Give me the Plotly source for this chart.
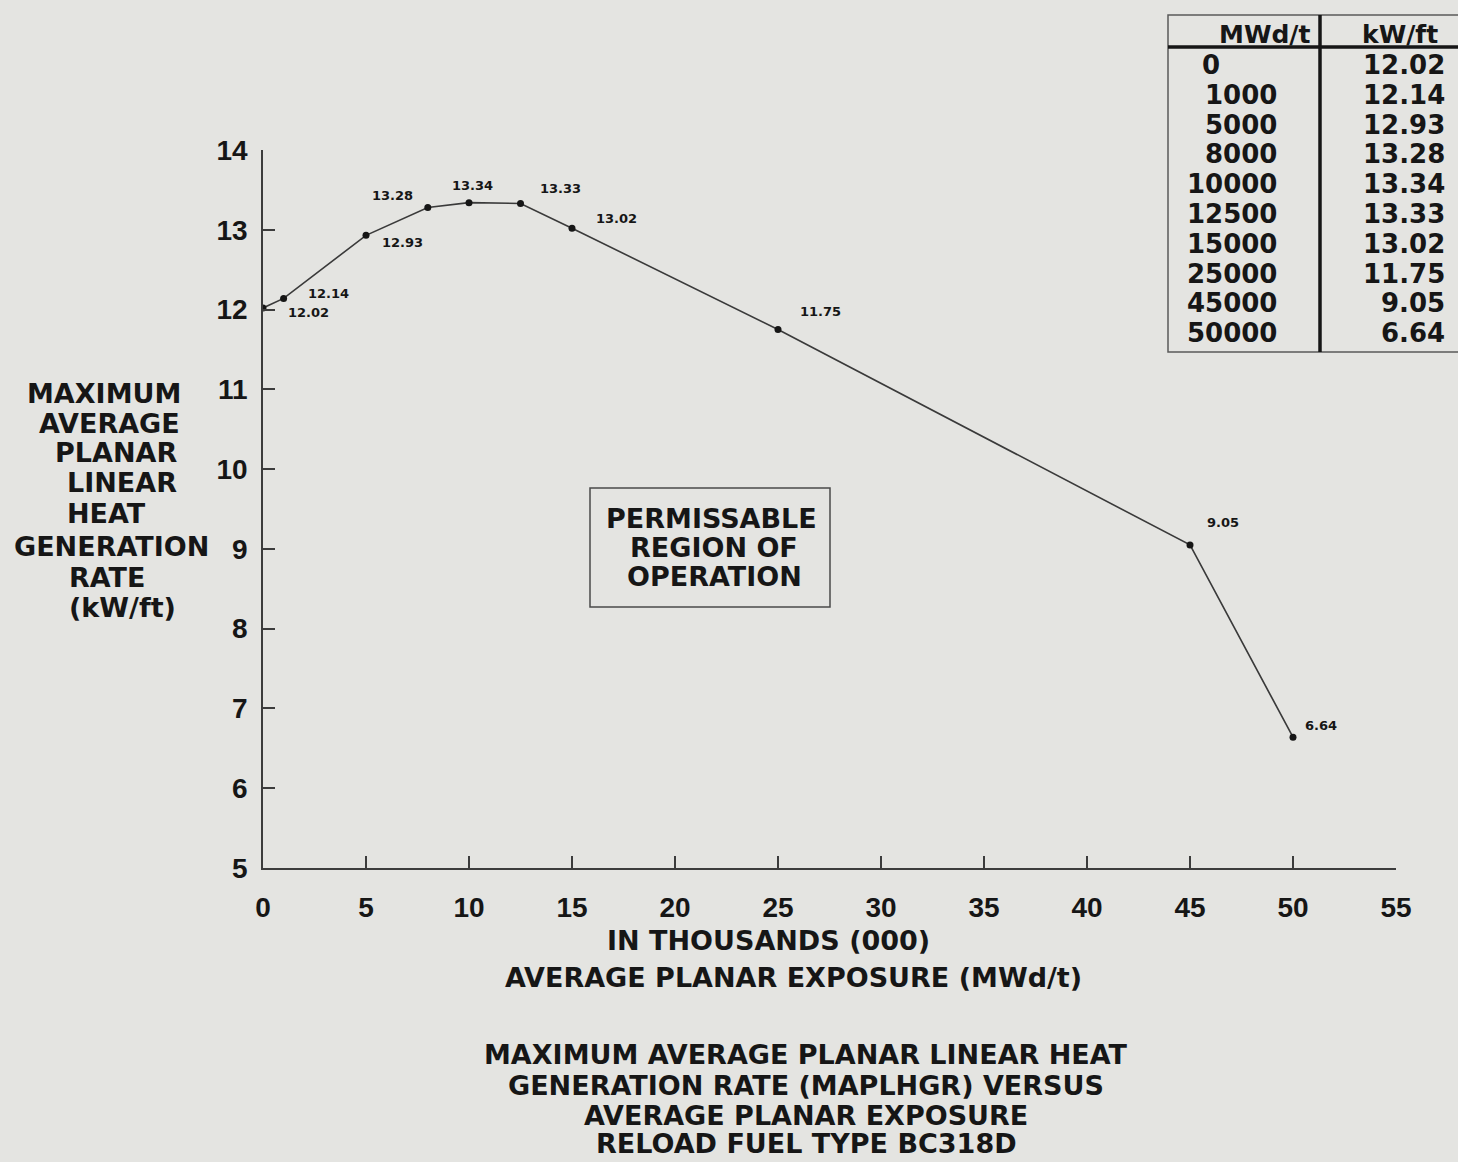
import plotly.graph_objects as go

# ---------------- data ----------------
exposure_mwdt = [0, 1000, 5000, 8000, 10000, 12500, 15000, 25000, 45000, 50000]
kw_per_ft = [12.02, 12.14, 12.93, 13.28, 13.34, 13.33, 13.02, 11.75, 9.05, 6.64]
x_ticks = [0, 5, 10, 15, 20, 25, 30, 35, 40, 45, 50, 55]
y_ticks = [5, 6, 7, 8, 9, 10, 11, 12, 13, 14]
table_headers = ["MWd/t", "kW/ft"]
y_title_lines = ["MAXIMUM", "AVERAGE", "PLANAR", "LINEAR", "HEAT", "GENERATION", "RATE", "(kW/ft)"]
region_lines = ["PERMISSABLE", "REGION OF", "OPERATION"]
x_title_lines = ["IN THOUSANDS (000)", "AVERAGE PLANAR EXPOSURE (MWd/t)"]
caption_lines = ["MAXIMUM AVERAGE PLANAR LINEAR HEAT",
                 "GENERATION RATE (MAPLHGR) VERSUS",
                 "AVERAGE PLANAR EXPOSURE",
                 "RELOAD FUEL TYPE BC318D"]

exposure_k = [v / 1000 for v in exposure_mwdt]

# ---------------- layout helpers ----------------
W, H = 1458, 1162
L, R, T, B = 263, 1396, 150, 868  # plot area in pixels
BG = "#e4e4e1"
INK = "#161616"
FONT = "DejaVu Sans"


def px(x):
    return (x - L) / (R - L)


def py(y):
    return (B - y) / (B - T)


fig = go.Figure()
fig.add_trace(go.Scatter(
    x=exposure_k, y=kw_per_ft, mode="lines+markers",
    line=dict(color="#3a3a3a", width=1.6),
    marker=dict(symbol="circle", size=7, color=INK),
    hoverinfo="x+y", showlegend=False,
))

annotations = []

# point labels (pixel offsets)
label_offsets = [(45, 5), (45, -5), (36, 7), (-35, -12), (3, -17),
                 (40, -15), (44, -10), (42, -18), (33, -22), (28, -12)]
for xv, yv, (dx, dy) in zip(exposure_k, kw_per_ft, label_offsets):
    annotations.append(dict(
        x=xv, y=yv, xref="x", yref="y", text=f"{yv:.2f}", showarrow=False,
        xshift=dx, yshift=-dy, font=dict(family=FONT, size=13, color=INK, weight="bold"),
    ))

# y title lines
y_title_pos = [(104, 393), (109, 423), (116, 453), (122, 482), (106, 513),
               (111, 546), (107, 577), (122, 607)]
for txt, (cx, cy) in zip(y_title_lines, y_title_pos):
    annotations.append(dict(
        x=px(cx), y=py(cy), xref="paper", yref="paper", text=txt, showarrow=False,
        xanchor="center", yanchor="middle",
        font=dict(family=FONT, size=27, color=INK, weight="bold"),
    ))

# region text
region_pos = [(711, 518), (714, 547), (714, 576)]
for txt, (cx, cy) in zip(region_lines, region_pos):
    annotations.append(dict(
        x=px(cx), y=py(cy), xref="paper", yref="paper", text=txt, showarrow=False,
        xanchor="center", yanchor="middle",
        font=dict(family=FONT, size=27, color=INK, weight="bold"),
    ))

# x titles
x_title_pos = [(768, 940), (793, 977)]
for txt, (cx, cy) in zip(x_title_lines, x_title_pos):
    annotations.append(dict(
        x=px(cx), y=py(cy), xref="paper", yref="paper", text=txt, showarrow=False,
        xanchor="center", yanchor="middle",
        font=dict(family=FONT, size=27, color=INK, weight="bold"),
    ))

# caption
caption_y = [1054, 1085, 1115, 1143]
for txt, cy in zip(caption_lines, caption_y):
    annotations.append(dict(
        x=px(806), y=py(cy), xref="paper", yref="paper", text=txt, showarrow=False,
        xanchor="center", yanchor="middle",
        font=dict(family=FONT, size=27, color=INK, weight="bold"),
    ))

# table
tfont = dict(family=FONT, size=26, color=INK, weight="bold")
hfont = dict(family=FONT, size=25, color=INK, weight="bold")
annotations.append(dict(x=px(1312), y=py(34), xref="paper", yref="paper", text=table_headers[0],
                        showarrow=False, xanchor="right", yanchor="middle", font=hfont))
annotations.append(dict(x=px(1440), y=py(34), xref="paper", yref="paper", text=table_headers[1],
                        showarrow=False, xanchor="right", yanchor="middle", font=hfont))
row0, row_step = 65, 29.8
for i, (m, k) in enumerate(zip(exposure_mwdt, kw_per_ft)):
    cy = row0 + i * row_step
    if i == 0:
        annotations.append(dict(x=px(1200), y=py(cy), xref="paper", yref="paper", text=str(m),
                                showarrow=False, xanchor="left", yanchor="middle", font=tfont))
    else:
        annotations.append(dict(x=px(1279), y=py(cy), xref="paper", yref="paper", text=str(m),
                                showarrow=False, xanchor="right", yanchor="middle", font=tfont))
    annotations.append(dict(x=px(1447), y=py(cy), xref="paper", yref="paper", text=f"{k:.2f}",
                            showarrow=False, xanchor="right", yanchor="middle", font=tfont))

shapes = [
    # region box
    dict(type="rect", xref="paper", yref="paper", x0=px(590), x1=px(830), y0=py(607), y1=py(488),
         line=dict(color="#4a4a4a", width=1.5)),
    # table frame
    dict(type="rect", xref="paper", yref="paper", x0=px(1168), x1=px(1470), y0=py(352), y1=py(15),
         line=dict(color="#5a5a5a", width=1.5)),
    dict(type="line", xref="paper", yref="paper", x0=px(1320), x1=px(1320), y0=py(352), y1=py(15),
         line=dict(color=INK, width=3.5)),
    dict(type="line", xref="paper", yref="paper", x0=px(1168), x1=px(1470), y0=py(47), y1=py(47),
         line=dict(color=INK, width=3.5)),
]

axis_common = dict(
    showgrid=False, zeroline=False, showline=True, linecolor="#3c3c3c", linewidth=1.6,
    ticks="inside", ticklen=12, tickwidth=1.5, tickcolor="#3c3c3c",
    tickfont=dict(family="Liberation Sans", size=28, color=INK, weight="bold"),
)

fig.update_layout(
    width=W, height=H,
    margin=dict(l=L, r=W - R, t=T, b=H - B, pad=0),
    paper_bgcolor=BG, plot_bgcolor=BG,
    xaxis=dict(range=[0, 55], tickvals=x_ticks, ticklabelstandoff=14, **axis_common),
    yaxis=dict(range=[5, 14], tickvals=y_ticks, ticklabelstandoff=8, **axis_common),
    annotations=annotations, shapes=shapes, showlegend=False,
)

fig.write_html("out.html", config={"displayModeBar": False},
               post_script="document.body.style.margin='0';document.body.style.overflow='hidden';")
